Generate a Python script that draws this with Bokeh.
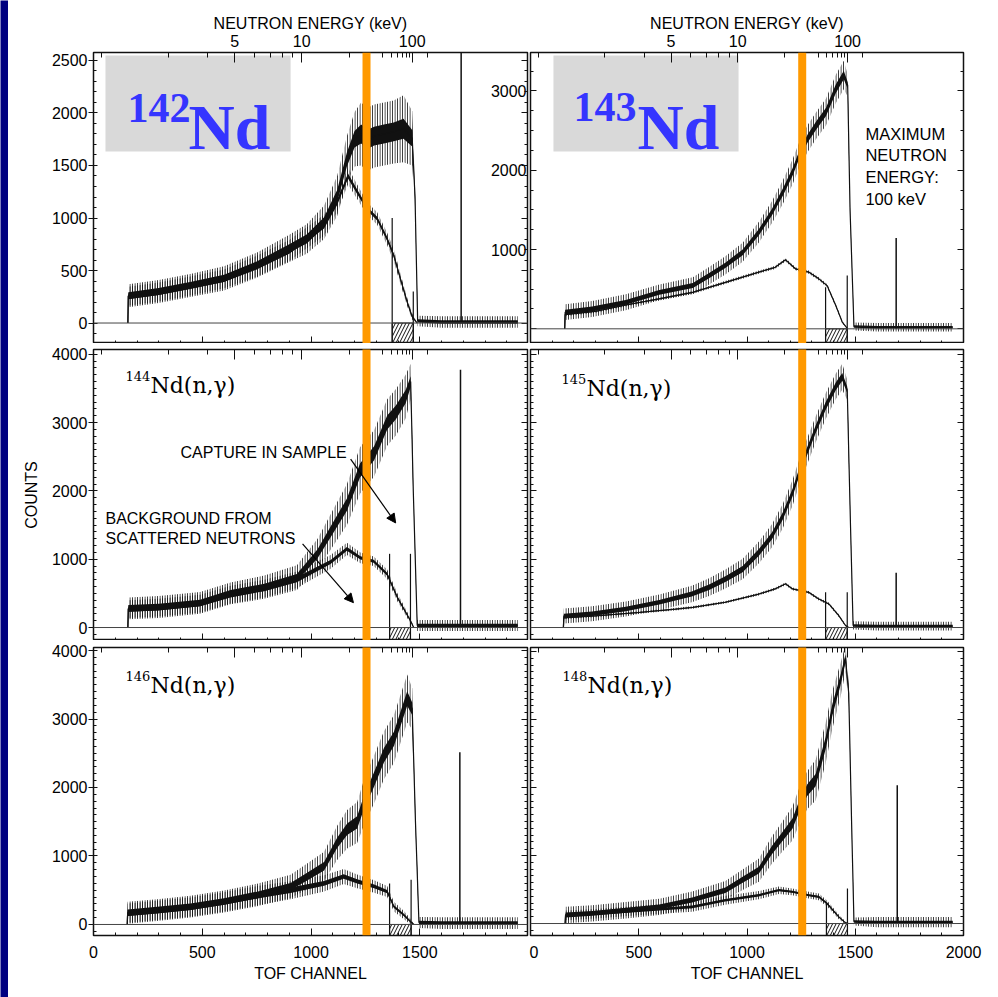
from bokeh.plotting import figure
from bokeh.layouts import column, row
from bokeh.models import Range1d, LinearAxis, FixedTicker, Span, Arrow, NormalHead, BoxAnnotation
from bokeh.core.properties import value
from bokeh.embed import file_html
from bokeh.resources import INLINE

# ------------------------------------------------------------------
# Data: TOF channel, mean counts, noise half-width
# ------------------------------------------------------------------
# 142Nd (top left)
nd142_cap_ch = [158, 160, 300, 450, 600, 750, 900, 980, 1060, 1120, 1165, 1200, 1230, 1260, 1290, 1335, 1380, 1425, 1465, 1478, 1490, 1600, 1700, 1800, 1950]
nd142_cap_mid = [0, 260, 300, 360, 425, 550, 710, 800, 960, 1210, 1560, 1750, 1800, 1750, 1780, 1800, 1820, 1850, 1760, 1200, 20, 10, 10, 10, 10]
nd142_cap_noise = [0, 110, 110, 110, 115, 120, 130, 140, 160, 190, 220, 260, 300, 300, 300, 300, 300, 320, 260, 100, 50, 55, 55, 55, 55]
nd142_bkg_ch = [158, 160, 300, 450, 600, 750, 900, 1060, 1120, 1170, 1212, 1258, 1304, 1350, 1381, 1411, 1442, 1465, 1488]
nd142_bkg_mid = [0, 255, 295, 355, 420, 540, 690, 930, 1150, 1400, 1250, 1090, 995, 800, 640, 420, 200, 60, 0]
nd142_bkg_noise = [0, 90, 90, 90, 90, 100, 100, 100, 90, 80, 70, 60, 60, 60, 60, 50, 40, 30, 0]

# 143Nd (top right)
nd143_cap_ch = [158, 160, 285, 440, 595, 750, 825, 900, 980, 1055, 1115, 1165, 1210, 1240, 1280, 1320, 1365, 1410, 1447, 1465, 1476, 1494, 1600, 1700, 1800, 1950]
nd143_cap_mid = [0, 210, 250, 335, 460, 545, 670, 800, 965, 1220, 1470, 1720, 1975, 2185, 2400, 2565, 2735, 3025, 3200, 3070, 1500, 30, 20, 20, 20, 20]
nd143_cap_noise = [0, 100, 100, 100, 100, 105, 110, 115, 120, 130, 140, 150, 160, 160, 170, 170, 170, 180, 180, 140, 60, 50, 55, 55, 55, 55]
nd143_bkg_ch = [158, 160, 300, 440, 595, 750, 900, 1055, 1130, 1178, 1225, 1285, 1332, 1370, 1410, 1440, 1465]
nd143_bkg_mid = [0, 180, 220, 300, 378, 460, 585, 715, 775, 870, 755, 715, 630, 545, 295, 85, 0]
nd143_bkg_noise = [0, 20, 20, 20, 20, 20, 20, 20, 20, 20, 20, 20, 20, 20, 20, 15, 0]

# 144Nd (middle left)
nd144_cap_ch = [158, 160, 300, 490, 630, 785, 935, 1030, 1090, 1165, 1225, 1290, 1350, 1390, 1435, 1458, 1470, 1488, 1600, 1700, 1800, 1950]
nd144_cap_mid = [0, 280, 300, 360, 500, 590, 730, 1080, 1400, 1800, 2300, 2550, 3000, 3150, 3380, 3600, 2000, 30, 30, 30, 30, 30]
nd144_cap_noise = [0, 160, 160, 160, 160, 170, 180, 220, 260, 300, 340, 340, 340, 340, 320, 260, 100, 80, 80, 80, 80, 80]
nd144_bkg_ch = [158, 160, 300, 490, 630, 785, 935, 1030, 1090, 1165, 1227, 1288, 1350, 1397, 1457, 1472]
nd144_bkg_mid = [0, 270, 290, 350, 480, 570, 700, 860, 960, 1150, 1020, 970, 780, 440, 100, 0]
nd144_bkg_noise = [0, 130, 130, 130, 130, 130, 120, 110, 100, 90, 80, 70, 70, 60, 40, 0]

# 145Nd (middle right)
nd145_cap_ch = [152, 154, 285, 440, 595, 745, 825, 900, 980, 1055, 1115, 1165, 1210, 1240, 1280, 1317, 1363, 1410, 1440, 1463, 1478, 1490, 1600, 1700, 1800, 1950]
nd145_cap_mid = [0, 170, 200, 270, 370, 490, 590, 710, 855, 1100, 1340, 1630, 1970, 2260, 2600, 2900, 3240, 3530, 3670, 3480, 1500, 30, 20, 20, 20, 20]
nd145_cap_noise = [0, 110, 110, 110, 115, 120, 130, 140, 150, 160, 170, 180, 190, 190, 190, 190, 190, 190, 190, 150, 80, 60, 65, 65, 65, 65]
nd145_bkg_ch = [152, 154, 300, 500, 670, 750, 900, 1055, 1130, 1178, 1210, 1285, 1330, 1378, 1424, 1455, 1470]
nd145_bkg_mid = [0, 140, 170, 220, 270, 296, 370, 490, 565, 640, 565, 515, 420, 345, 175, 30, 0]
nd145_bkg_noise = [0, 20, 20, 20, 20, 20, 20, 20, 20, 20, 20, 20, 20, 20, 20, 15, 0]

# 146Nd (bottom left)
nd146_cap_ch = [155, 157, 293, 446, 600, 752, 906, 982, 1060, 1120, 1166, 1212, 1243, 1290, 1335, 1381, 1411, 1442, 1465, 1480, 1496, 1600, 1700, 1800, 1950]
nd146_cap_mid = [0, 170, 210, 260, 335, 430, 555, 700, 850, 1190, 1390, 1490, 1780, 2120, 2470, 2710, 3000, 3300, 3150, 1500, 30, 20, 20, 20, 20]
nd146_cap_noise = [0, 160, 160, 160, 160, 165, 170, 190, 210, 250, 280, 300, 330, 350, 350, 350, 350, 350, 300, 120, 80, 85, 85, 85, 85]
nd146_bkg_ch = [155, 157, 293, 446, 600, 752, 906, 1060, 1150, 1212, 1290, 1350, 1381, 1427, 1458, 1473]
nd146_bkg_mid = [0, 165, 205, 255, 330, 420, 500, 600, 700, 630, 555, 480, 260, 137, 40, 0]
nd146_bkg_noise = [0, 140, 140, 140, 140, 140, 130, 120, 110, 100, 90, 80, 70, 60, 40, 0]

# 148Nd (bottom right)
nd148_cap_ch = [160, 162, 285, 440, 595, 747, 900, 978, 1055, 1115, 1163, 1210, 1240, 1278, 1317, 1363, 1394, 1432, 1455, 1470, 1483, 1494, 1600, 1700, 1800, 1950]
nd148_cap_mid = [0, 125, 150, 195, 245, 345, 490, 640, 785, 1080, 1275, 1470, 1715, 1960, 2110, 2650, 3140, 3580, 3900, 3380, 1500, 30, 20, 20, 20, 20]
nd148_cap_noise = [0, 120, 120, 120, 120, 125, 135, 150, 170, 200, 220, 250, 270, 280, 300, 300, 280, 250, 200, 150, 80, 60, 75, 75, 75, 75]
nd148_bkg_ch = [160, 162, 300, 500, 747, 900, 1055, 1147, 1209, 1286, 1332, 1370, 1424, 1455, 1470]
nd148_bkg_mid = [0, 120, 145, 190, 245, 343, 417, 490, 466, 417, 392, 294, 98, 10, 0]
nd148_bkg_noise = [0, 70, 70, 70, 70, 65, 60, 55, 50, 50, 50, 45, 35, 20, 0]

isotopes = ["142", "143", "144", "145", "146", "148"]
flash_ch = [1690, 1689, 1687, 1689, 1684, 1694]        # gamma-flash spike
flash_top = [2600, 1144, 3775, 800, 2515, 2034]
win_lo_ch = [1373, 1363, 1361, 1363, 1361, 1367]       # analysis window
win_hi_ch = [1470, 1463, 1457, 1463, 1460, 1464]
win_lo_top = [1000, 525, 1079, 515, 600, 294]
win_hi_top = [300, 672, 1079, 515, 652, 515]
marker_ch = 1255                                       # orange marker line

x_major = [0, 500, 1000, 1500, 2000]
x_minor = list(range(0, 2001, 100))
energy_major = [5, 10, 100]
energy_minor = [2, 3, 4, 6, 7, 8, 9, 20, 30, 40, 50, 60, 70, 80, 90, 200]
flash_channel = 1700          # time zero of the TOF scale
tof_const = 2349.5            # channel distance of 1 keV from the flash

max_energy_text = ["MAXIMUM", "NEUTRON", "ENERGY:", "100 keV"]

# ------------------------------------------------------------------
SANS = "Liberation Sans"
SERIF = "DejaVu Serif"
BLUE = "#3535FF"
ORANGE = "#FF9900"
NAVY = "#000080"
INK = "#111111"
FS = "16px"
TOP_BAND = 5      # height of the navy band above the panels (px)


def e2ch(e):
    return int(round(flash_channel - tof_const / e ** 0.5))


def add_axis(p, side, major, minor, labels=None, title=None, tin=0, tout=0,
             mtin=0, mtout=0, standoff=4, title_standoff=4):
    ax = LinearAxis(ticker=FixedTicker(ticks=major, minor_ticks=minor))
    ax.axis_line_color = None
    ax.major_tick_in = tin
    ax.major_tick_out = tout
    ax.minor_tick_in = mtin
    ax.minor_tick_out = mtout
    ax.major_tick_line_color = INK
    ax.minor_tick_line_color = INK
    ax.major_tick_line_width = 1
    ax.minor_tick_line_width = 1
    if labels is None:
        ax.major_label_text_color = None
        ax.major_label_standoff = 0
    else:
        ax.major_label_overrides = labels
        ax.major_label_text_font = SANS
        ax.major_label_text_font_size = FS
        ax.major_label_text_color = "black"
        ax.major_label_standoff = standoff
    if title:
        ax.axis_label = title
        ax.axis_label_text_font = SANS
        ax.axis_label_text_font_size = FS
        ax.axis_label_text_font_style = "normal"
        ax.axis_label_text_color = "black"
        ax.axis_label_standoff = title_standoff
    p.add_layout(ax, side)
    return ax


def make_panel(xr, yr, left_col, frame_h, top_b, bot_b):
    p = figure(frame_width=434 if left_col else 433, frame_height=frame_h,
               x_range=xr, y_range=yr, x_axis_type=None, y_axis_type=None,
               output_backend="svg", toolbar_location=None,
               min_border_left=85 if left_col else 1,
               min_border_right=2 if left_col else 35,
               min_border_top=top_b, min_border_bottom=bot_b,
               background_fill_color="white", border_fill_color="white",
               outline_line_color=INK, outline_line_width=1.5)
    return p


def draw_spectrum(p, ch, mid, noise, core=0.3, lw=1.2):
    lo = [m - n for m, n in zip(mid, noise)]
    hi = [m + n for m, n in zip(mid, noise)]
    clo = [m - core * n for m, n in zip(mid, noise)]
    chi = [m + core * n for m, n in zip(mid, noise)]
    p.varea(x=ch, y1=lo, y2=hi, fill_alpha=0, hatch_pattern="|",
            hatch_color=INK, hatch_scale=2.5, hatch_weight=1)
    p.varea(x=ch, y1=clo, y2=chi, fill_color=INK)
    p.line(ch, mid, line_color=INK, line_width=lw)


XL = Range1d(0, 1995)
XR = Range1d(0, 2000)
y_ranges = [Range1d(-195, 2576), Range1d(-185, 3484), Range1d(-190, 4070),
            Range1d(-190, 4070), Range1d(-161, 4044), Range1d(-176, 4059)]
frame_hs = [291, 291, 291, 291, 288, 288]
tops = [47 + TOP_BAND, 47 + TOP_BAND, 4, 4, 4, 4]
bots = [0, 0, 0, 0, 62, 62]

spectra = [
    (nd142_cap_ch, nd142_cap_mid, nd142_cap_noise, nd142_bkg_ch, nd142_bkg_mid, nd142_bkg_noise),
    (nd143_cap_ch, nd143_cap_mid, nd143_cap_noise, nd143_bkg_ch, nd143_bkg_mid, nd143_bkg_noise),
    (nd144_cap_ch, nd144_cap_mid, nd144_cap_noise, nd144_bkg_ch, nd144_bkg_mid, nd144_bkg_noise),
    (nd145_cap_ch, nd145_cap_mid, nd145_cap_noise, nd145_bkg_ch, nd145_bkg_mid, nd145_bkg_noise),
    (nd146_cap_ch, nd146_cap_mid, nd146_cap_noise, nd146_bkg_ch, nd146_bkg_mid, nd146_bkg_noise),
    (nd148_cap_ch, nd148_cap_mid, nd148_cap_noise, nd148_bkg_ch, nd148_bkg_mid, nd148_bkg_noise),
]

e_major_ch = [e2ch(e) for e in energy_major]
e_minor_ch = [e2ch(e) for e in energy_minor]
e_labels = {c: str(e) for c, e in zip(e_major_ch, energy_major)}

panels = []
for i in range(6):
    left_col = (i % 2 == 0)
    xr = XL if left_col else XR
    yr = y_ranges[i]
    p = make_panel(xr, yr, left_col, frame_hs[i], tops[i], bots[i])
    rowi = i // 2

    # y ticks
    if i == 0:
        ymaj = [0, 500, 1000, 1500, 2000, 2500]
        ymin = list(range(-100, 2600, 100))
    elif i == 1:
        ymaj = [0, 1000, 2000, 3000]
        ymin = list(range(-250, 3500, 250))
    else:
        ymaj = [0, 1000, 2000, 3000, 4000]
        ymin = list(range(-100, 4100, 100))
    if left_col:
        add_axis(p, "left", ymaj, ymin, labels={v: str(v) for v in ymaj},
                 title="COUNTS" if i == 2 else None, tin=4, tout=5, mtin=3,
                 standoff=1, title_standoff=9)
    else:
        add_axis(p, "left", ymaj, ymin, tin=6, mtin=3)
    add_axis(p, "right", ymaj, ymin, tin=6, mtin=3)

    # channel axis (bottom)
    if rowi == 2:
        add_axis(p, "below", x_major, x_minor, labels={v: str(v) for v in x_major},
                 title="TOF CHANNEL", tin=7, mtin=3, standoff=10, title_standoff=4)
    else:
        add_axis(p, "below", x_major, x_minor, tin=7, mtin=3)

    # neutron energy axis (top)
    if rowi == 0:
        add_axis(p, "above", e_major_ch, e_minor_ch, labels=e_labels,
                 title="NEUTRON ENERGY (keV)", tin=10, mtin=5, standoff=6, title_standoff=0)
    else:
        add_axis(p, "above", e_major_ch, e_minor_ch, tin=10, mtin=5)

    cap_ch, cap_mid, cap_noise, bkg_ch, bkg_mid, bkg_noise = spectra[i]
    draw_spectrum(p, cap_ch, cap_mid, cap_noise)
    draw_spectrum(p, bkg_ch, bkg_mid, bkg_noise)

    # analysis window: hatched box and its edges
    p.quad(left=[win_lo_ch[i]], right=[win_hi_ch[i]], top=[0], bottom=[yr.start],
           fill_alpha=0, hatch_pattern="/", hatch_color=INK, hatch_scale=7,
           hatch_weight=1, line_color=INK, line_width=1)
    p.segment(x0=[win_lo_ch[i], win_hi_ch[i]], y0=[yr.start, yr.start],
              x1=[win_lo_ch[i], win_hi_ch[i]], y1=[win_lo_top[i], win_hi_top[i]],
              line_color=INK, line_width=1.2)
    # gamma flash
    p.segment(x0=[flash_ch[i]], y0=[0], x1=[flash_ch[i]], y1=[flash_top[i]],
              line_color=INK, line_width=1.5)

    p.add_layout(Span(location=0, dimension="width", line_color="#444444", line_width=1))
    if rowi == 0:
        p.add_layout(Span(location=marker_ch, dimension="height", line_color=ORANGE, line_width=8))
        # navy slide band along the very top of the page
        ppc = frame_hs[i] / (yr.end - yr.start)
        y_band = yr.end + (tops[i] - TOP_BAND / 2.0) / ppc
        p.add_layout(Arrow(start=None, end=None, x_start=xr.start - 2000, x_end=xr.end + 2000,
                           y_start=y_band, y_end=y_band, line_color=NAVY, line_width=TOP_BAND + 1))
    else:
        # marker also crosses the small top border of the panel
        span_y = yr.end - yr.start
        p.add_layout(Arrow(start=None, end=None, x_start=marker_ch, x_end=marker_ch,
                           y_start=yr.end + 0.05 * span_y, y_end=yr.start,
                           line_color=ORANGE, line_width=8))
    panels.append(p)

tl, tr, ml, mr, bl, br = panels

# Big isotope labels in grey boxes (top row)
tl.add_layout(BoxAnnotation(left=55, right=906, bottom=1633, top=2548,
                            fill_color="#D9D9D9", fill_alpha=1, line_color=None, level="underlay"))
tl.text(x=[156], y=[2052], text=[isotopes[0]], text_font=value("Liberation Serif"),
        text_font_style="bold", text_font_size="42px", text_color=BLUE, text_baseline="alphabetic")
tl.text(x=[437], y=[1862], text=["Nd"], text_font=value("Liberation Serif"),
        text_font_style="bold", text_font_size="64px", text_color=BLUE, text_baseline="alphabetic")

tr.add_layout(BoxAnnotation(left=106, right=961, bottom=2236, top=3446,
                            fill_color="#D9D9D9", fill_alpha=1, line_color=None, level="underlay"))
tr.text(x=[199], y=[2791], text=[isotopes[1]], text_font=value("Liberation Serif"),
        text_font_style="bold", text_font_size="42px", text_color=BLUE, text_baseline="alphabetic")
tr.text(x=[494], y=[2538], text=["Nd"], text_font=value("Liberation Serif"),
        text_font_style="bold", text_font_size="64px", text_color=BLUE, text_baseline="alphabetic")

# tick labels of the top-right panel (they sit inside the top-left panel)
tr_major = [1000, 2000, 3000]
tl.extra_y_ranges = {"tr": Range1d(y_ranges[1].start, y_ranges[1].end)}
tl.text(x=[XL.end] * 3, y=tr_major, text=[str(v) for v in tr_major], y_range_name="tr",
        text_align="right", text_baseline="middle", text_font=value(SANS),
        text_font_size=FS, x_offset=-1, text_color="black")

tr.text(x=[1547] * 4, y=[2460, 2190, 1915, 1640], text=max_energy_text,
        text_align="left", text_baseline="middle", text_font=value(SANS),
        text_font_size="16.5px", text_color="black")

# reaction labels
for p, iso, ax, ay in [(ml, isotopes[2], 147, 3540), (mr, isotopes[3], 143, 3494),
                       (bl, isotopes[4], 147, 3489), (br, isotopes[5], 148, 3500)]:
    p.text(x=[ax], y=[ay], text=[iso], text_font=value(SERIF), text_font_size="13px",
           text_baseline="alphabetic", y_offset=-10, text_color="black")
    p.text(x=[ax], y=[ay], text=["Nd(n,\u03b3)"], text_font=value(SERIF), text_font_size="22px",
           text_baseline="alphabetic", x_offset=25, text_color="black")

# annotations in 144Nd panel
ml.text(x=[400], y=[2562], text=["CAPTURE IN SAMPLE"], text_font=value(SANS),
        text_font_size=FS, text_baseline="middle", text_color="black")
ml.text(x=[55, 55], y=[1596, 1303], text=["BACKGROUND FROM", "SCATTERED NEUTRONS"],
        text_font=value(SANS), text_font_size=FS, text_baseline="middle", text_color="black")
ml.add_layout(Arrow(end=NormalHead(size=9, fill_color="black", line_color="black"),
                    x_start=1182, y_start=2464, x_end=1389, y_end=1531,
                    line_color="black", line_width=1.2))
ml.add_layout(Arrow(end=NormalHead(size=9, fill_color="black", line_color="black"),
                    x_start=961, y_start=1224, x_end=1195, y_end=364,
                    line_color="black", line_width=1.2))


def filler(xr, left_col, h):
    f = figure(frame_width=434 if left_col else 433, frame_height=h,
               x_range=xr, y_range=Range1d(0, 1), x_axis_type=None, y_axis_type=None,
               output_backend="svg", toolbar_location=None,
               min_border_left=85 if left_col else 1,
               min_border_right=2 if left_col else 35,
               min_border_top=0, min_border_bottom=0,
               background_fill_color="white", border_fill_color="white",
               outline_line_color=None)
    f.add_layout(Span(location=marker_ch, dimension="height", line_color=ORANGE, line_width=8))
    return f


body = column(row(tl, tr), row(filler(XL, True, 2), filler(XR, False, 2)),
              row(ml, mr), row(filler(XL, True, 3), filler(XR, False, 3)),
              row(bl, br))

navy_left = figure(width=8, height=997, x_axis_type=None, y_axis_type=None,
                   output_backend="svg", toolbar_location=None, min_border=0,
                   background_fill_color=NAVY, border_fill_color=NAVY,
                   outline_line_color=None)

page = row(navy_left, body)

open("out.html", "w").write(file_html(page, INLINE))
